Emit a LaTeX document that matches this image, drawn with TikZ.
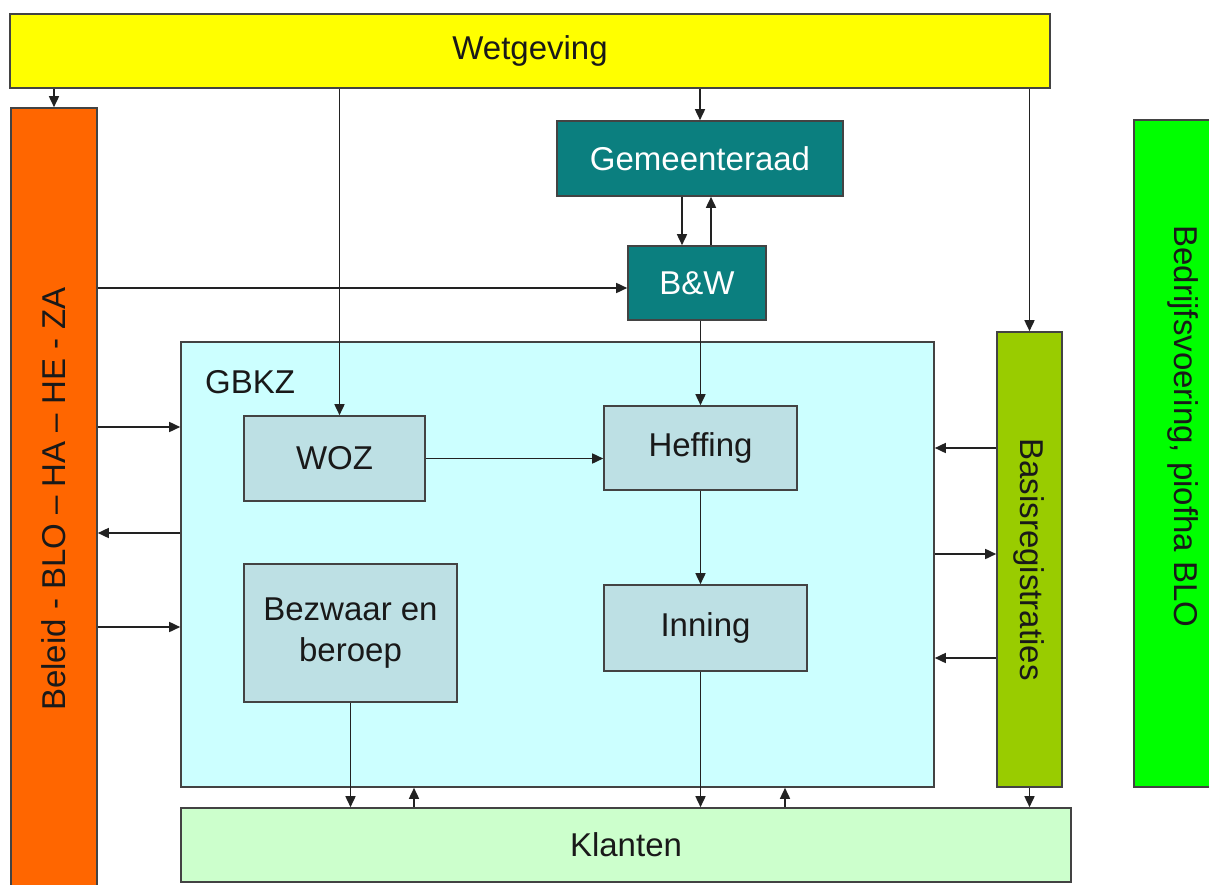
\documentclass[tikz,border=0pt]{standalone}
\usepackage{fontspec}
\setmainfont{Liberation Sans}
\usetikzlibrary{arrows.meta}
\definecolor{cYellow}{HTML}{FFFF00}
\definecolor{cOrange}{HTML}{FF6600}
\definecolor{cTeal}{HTML}{0B7F7F}
\definecolor{cCyan}{HTML}{CCFFFF}
\definecolor{cInner}{HTML}{BDE0E4}
\definecolor{cOlive}{HTML}{99CC00}
\definecolor{cGreen}{HTML}{00FF00}
\definecolor{cMint}{HTML}{CCFFCC}
\definecolor{cLine}{HTML}{222222}
\begin{document}
\begin{tikzpicture}[x=1pt,y=-1pt,
  box/.style={draw=cLine!85,line width=1.6pt,inner sep=0pt,align=center,
    font=\fontsize{33}{41}\selectfont,text=black!90},
  arr/.style={draw=cLine,line width=1.6pt,-{Triangle[length=11pt,width=10pt]}}]
\useasboundingbox (0,0) rectangle (1209,885);
\fill[white] (0,0) rectangle (1209,885);

\node[box,fill=cYellow,minimum width=1040,minimum height=74] (wet) at (530,51) {Wetgeving};
\node[box,fill=cOrange,minimum width=86,minimum height=782] (bel) at (54,499) {\rotatebox{90}{Beleid - BLO – HA – HE - ZA}};
\node[box,fill=cTeal,minimum width=286,minimum height=75,text=white] (gem) at (700,158.5) {Gemeenteraad};
\node[box,fill=cTeal,minimum width=138,minimum height=74,text=white] (bw) at (697,283) {B\&W};
\node[box,fill=cCyan,minimum width=753,minimum height=445] (gbkz) at (557.5,564.5) {};
\node[anchor=west,inner sep=0pt,font=\fontsize{33}{41}\selectfont,text=black!90] (gbkzlbl) at (205,382) {GBKZ};
\node[box,fill=cInner,minimum width=181,minimum height=85] (woz) at (334.5,458.5) {WOZ};
\node[box,fill=cInner,minimum width=193,minimum height=84] (heff) at (700.5,448) {\raisebox{-2pt}{Heffing}};
\node[box,fill=cInner,minimum width=213,minimum height=138] (bez) at (350.5,633) {Bezwaar en\\beroep};
\node[box,fill=cInner,minimum width=203,minimum height=86] (inn) at (705.5,628) {Inning};
\node[box,fill=cOlive,minimum width=65,minimum height=455] (basis) at (1029.5,559.5) {\rotatebox{-90}{Basisregistraties}};
\node[box,fill=cGreen,minimum width=98,minimum height=667] (bedr) at (1183,453.5) {\rotatebox{-90}{Bedrijfsvoering, piofha BLO\hspace{54pt}}};
\node[box,fill=cMint,minimum width=890,minimum height=74] (kla) at (626,845) {Klanten};

% Wetgeving arrows
\draw[arr] (wet.south -| bel.north) -- (bel.north);
\coordinate (wozin) at ([xshift=5pt]woz.north);
\draw[arr] (wozin |- wet.south) -- (wozin);
\draw[arr] (wet.south -| gem.north) -- (gem.north);
\draw[arr] (wet.south -| basis.north) -- (basis.north);

% Gemeenteraad / B&W
\coordinate (g1) at ([xshift=-18pt]gem.south);
\draw[arr] (g1) -- (g1 |- bw.north);
\coordinate (g2) at ([xshift=14pt]bw.north);
\draw[arr] (g2) -- (g2 |- gem.south);
\coordinate (b1) at ([yshift=-5pt]bw.west);
\draw[arr] (b1 -| bel.east) -- (b1);
\draw[arr] (bw.south -| heff.north) -- (heff.north);

% inside GBKZ
\draw[arr] (woz.east) -- (woz.east -| heff.west);
\draw[arr] (heff.south) -- (heff.south |- inn.north);

% left side
\coordinate (L1) at (0,427);
\coordinate (L2) at (0,533);
\coordinate (L3) at (0,627);
\draw[arr] (L1 -| bel.east) -- (L1 -| gbkz.west);
\draw[arr] (L2 -| gbkz.west) -- (L2 -| bel.east);
\draw[arr] (L3 -| bel.east) -- (L3 -| gbkz.west);

% right side
\coordinate (R1) at (0,448);
\coordinate (R2) at (0,554);
\coordinate (R3) at (0,658);
\draw[arr] (R1 -| basis.west) -- (R1 -| gbkz.east);
\draw[arr] (R2 -| gbkz.east) -- (R2 -| basis.west);
\draw[arr] (R3 -| basis.west) -- (R3 -| gbkz.east);

% bottom
\draw[arr] (bez.south) -- (bez.south |- kla.north);
\coordinate (K1) at (414,0);
\draw[arr] (K1 |- kla.north) -- (K1 |- gbkz.south);
\draw[arr] (inn.south -| heff.south) -- (heff.south |- kla.north);
\coordinate (K2) at (785,0);
\draw[arr] (K2 |- kla.north) -- (K2 |- gbkz.south);
\draw[arr] (basis.south) -- (basis.south |- kla.north);
\end{tikzpicture}
\end{document}
